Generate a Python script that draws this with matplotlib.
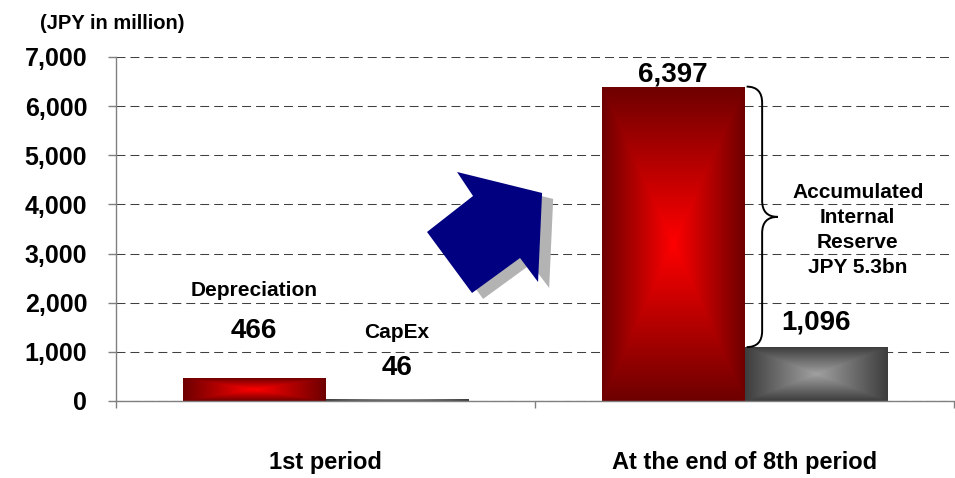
import numpy as np
import matplotlib
matplotlib.use('Agg')
import matplotlib.pyplot as plt
from matplotlib.path import Path
from matplotlib.patches import PathPatch, Polygon
from matplotlib import transforms

plt.rcParams['font.family'] = ['Liberation Sans', 'DejaVu Sans']
plt.rcParams['font.weight'] = 'bold'

# data
categories = ['1st period', 'At the end of 8th period']
series_names = ['Depreciation', 'CapEx']
depreciation = [466, 6397]
capex = [46, 1096]
yticks = [0, 1000, 2000, 3000, 4000, 5000, 6000, 7000]
reserve_note = 'Accumulated\nInternal\nReserve\nJPY 5.3bn'
unit_label = '(JPY in million)'


def gradient_fill(ax, bar, inner, outer):
    # rectangular "from centre" gradient, clipped to the bar
    x, y = bar.get_x(), bar.get_y()
    w, h = bar.get_width(), bar.get_height()
    u = np.linspace(-1, 1, 240)
    U, V = np.meshgrid(u, u)
    t = np.maximum(np.abs(U), np.abs(V))[..., None]
    img = np.array(inner)[None, None, :] * (1 - t) + np.array(outer)[None, None, :] * t
    im = ax.imshow(img, extent=[x, x + w, y, y + h], aspect='auto',
                   origin='lower', zorder=1, interpolation='bilinear')
    im.set_clip_path(bar)
    bar.set_facecolor('none')


fig = plt.figure(figsize=(9.55, 4.78), dpi=100)
ax = fig.add_axes([0.1215, 0.1611, 0.8775, 0.7197])

x = np.arange(len(categories))
w = 0.34
red_bars = ax.bar(x - w / 2, depreciation, w, edgecolor='none', zorder=1)
grey_bars = ax.bar(x + w / 2, capex, w, edgecolor='none', zorder=1)

red_in, red_out = (1.0, 0.0, 0.0), (0.43, 0.0, 0.0)
grey_in, grey_out = (0.63, 0.63, 0.63), (0.24, 0.24, 0.24)
for b in red_bars:
    gradient_fill(ax, b, red_in, red_out)
for b in grey_bars:
    gradient_fill(ax, b, grey_in, grey_out)

ax.set_xlim(-0.5, 1.5)
ax.set_ylim(0, 7000)

# axes styling
for s in ['top', 'right']:
    ax.spines[s].set_visible(False)
for s in ['left', 'bottom']:
    ax.spines[s].set_color('#808080')
    ax.spines[s].set_linewidth(1)

ax.set_axisbelow(True)
ax.yaxis.grid(True, color='#404040', lw=0.75, ls=(0, (8.6, 4.8)))
ax.set_yticks(yticks)
ax.set_yticklabels([f'{v:,}' for v in yticks])
ax.tick_params(axis='y', direction='out', length=5.8, width=1, color='#808080',
               labelsize=18, pad=15)

ax.set_xticks([-0.5, 0.5, 1.5])
ax.set_xticklabels([])
ax.tick_params(axis='x', which='major', direction='out', length=5, width=1, color='#808080')
ax.set_xticks(x, minor=True)
ax.set_xticklabels(categories, minor=True)
ax.tick_params(axis='x', which='minor', length=0, labelsize=17, pad=36)

# value labels
val_offsets_red = [29, 4]
val_offsets_grey = [17, 13]
for b, v, off in zip(red_bars, depreciation, val_offsets_red):
    ax.annotate(f'{v:,}', (b.get_x() + b.get_width() / 2, v), xytext=(0, off),
                textcoords='offset points', ha='center', va='baseline', fontsize=20)
for b, v, off in zip(grey_bars, capex, val_offsets_grey):
    ax.annotate(f'{v:,}', (b.get_x() + b.get_width() / 2, v), xytext=(0, off),
                textcoords='offset points', ha='center', va='baseline', fontsize=20)

# series names above first group
for b, name, off in zip([red_bars[0], grey_bars[0]], series_names, [59, 44]):
    ax.annotate(name, (b.get_x() + b.get_width() / 2, b.get_height()), xytext=(0, off),
                textcoords='offset points', ha='center', va='baseline', fontsize=15)

# brace between the two 8th-period bars
top, bot = depreciation[1], capex[1]
mid = (top + bot) / 2
x0 = red_bars[1].get_x() + red_bars[1].get_width() + 0.005
xm, xt, r = x0 + 0.037, x0 + 0.074, 330
verts = [(x0, top), (xm, top), (xm, top - r), (xm, mid + r), (xm, mid), (xt, mid),
         (xm, mid), (xm, mid - r), (xm, bot + r), (xm, bot), (x0, bot)]
codes = [Path.MOVETO, Path.CURVE3, Path.CURVE3, Path.LINETO, Path.CURVE3, Path.CURVE3,
         Path.CURVE3, Path.CURVE3, Path.LINETO, Path.CURVE3, Path.CURVE3]
ax.add_patch(PathPatch(Path(verts, codes), fill=False, lw=1.4, color='black', zorder=3))

ax.text(1.27, 3480, reserve_note, ha='center', va='center', fontsize=15, linespacing=1.38)

# big blue arrow with shadow (decoration, axes fraction)
arrow_pts = [(0.3711, 0.4913), (0.4248, 0.3140), (0.4821, 0.4157), (0.5036, 0.3459),
             (0.5084, 0.6047), (0.4069, 0.6657), (0.4260, 0.5959)]
shadow_tr = transforms.offset_copy(ax.transAxes, fig=fig, x=8, y=-4.3, units='points')
ax.add_patch(Polygon(arrow_pts, closed=True, transform=shadow_tr, facecolor='#b3b3b3',
                     edgecolor='none', zorder=4, clip_on=False))
ax.add_patch(Polygon(arrow_pts, closed=True, transform=ax.transAxes, facecolor='#000080',
                     edgecolor='none', zorder=5, clip_on=False))

fig.text(0.042, 0.939, unit_label, ha='left', va='baseline', fontsize=14.5)

fig.savefig('out.png', dpi=100)
